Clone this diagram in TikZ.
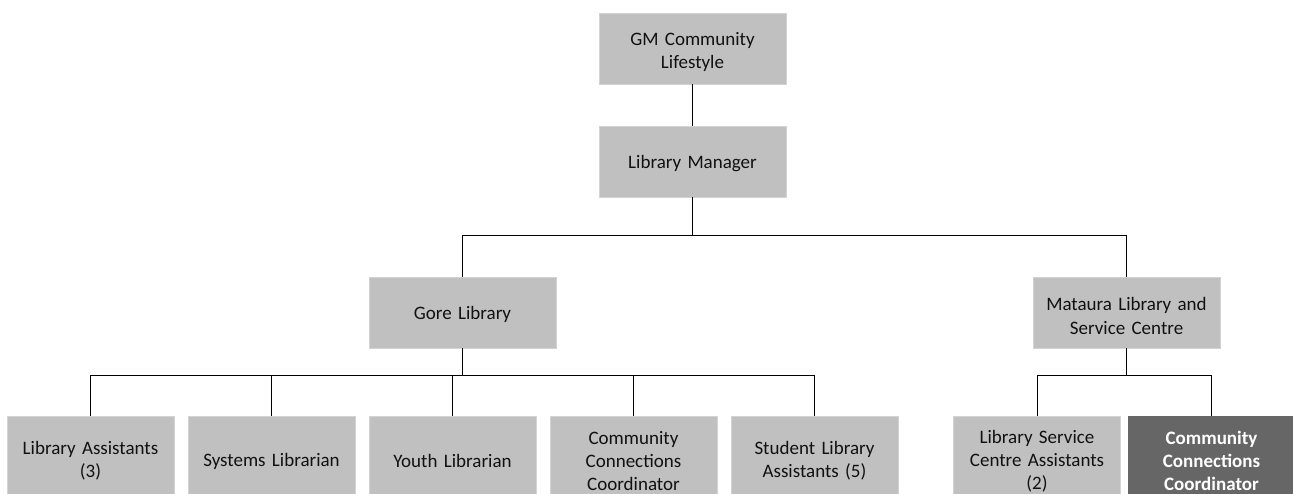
\documentclass[tikz,border=0pt]{standalone}
\usepackage{fontspec}
\setmainfont{Carlito}
\definecolor{boxgray}{HTML}{C0C0C0}
\definecolor{boxdark}{HTML}{666666}
\definecolor{txt}{HTML}{111111}
\tikzset{
  unit/.style={rectangle, fill=boxgray, draw=boxgray!70!white, line width=0.6pt,
    text=txt, align=center, inner sep=2pt,
    font=\fontsize{19}{23.2}\selectfont},
  upper/.style={unit, minimum width=187pt, minimum height=71pt, text width=175pt},
  lower/.style={unit, minimum width=167pt, minimum height=90pt, text width=160pt},
  highlight/.style={fill=boxdark, draw=boxdark, text=white, font=\fontsize{19}{23.2}\selectfont\bfseries},
  link/.style={draw=black, line width=1pt}
}
\begin{document}
\begin{tikzpicture}[x=1pt, y=-1pt]
\useasboundingbox (0,0) rectangle (1293,494);
\clip (0,0) rectangle (1293,494);

% top of the chart
\node[upper] (gm) at (692.5,48.5) {\rule{0pt}{20pt}GM Community\\Lifestyle};
\node[upper] (lm) at (692.5,161.5) {\rule{0pt}{18pt}Library Manager};

% the two branches
\node[upper] (gore) at (462.5,312.5) {\rule{0pt}{18pt}Gore Library};
\node[upper] (mat) at (1126.5,312.5) {\rule{0pt}{20pt}Mataura Library and\\Service Centre};

% Gore Library staff
\node[lower] (la) at (90.5,461) {Library Assistants\\(3)};
\node[lower] (sl) at (271.5,461) {Systems Librarian};
\node[lower] (yl) at (452.5,461) {Youth Librarian};
\node[lower] (cc) at (633.5,461) {Community\\Connections\\Coordinator};
\node[lower] (sa) at (814.5,461) {Student Library\\Assistants (5)};

% Mataura staff
\node[lower] (lsc) at (1037,461) {Library Service\\Centre Assistants\\(2)};
\node[lower, highlight] (ccm) at (1211.5,461) {Community\\Connections\\Coordinator};

% bus lines
\coordinate (busA) at (0,236);
\coordinate (busB) at (0,375.5);

% connectors
\draw[link] (gm.south) -- (lm.north);
\draw[link] (lm.south) -- (lm.south|-busA) -| (gore.north);
\draw[link] (lm.south|-busA) -| (mat.north);

\draw[link] (gore.south) -- (gore.south|-busB);
\draw[link] (la.north) |- (sa.north|-busB) -- (sa.north);
\draw[link] (sl.north) -- (sl.north|-busB);
\draw[link] (yl.north) -- (yl.north|-busB);
\draw[link] (cc.north) -- (cc.north|-busB);

\draw[link] (mat.south) -- (mat.south|-busB);
\draw[link] (lsc.north) |- (ccm.north|-busB) -- (ccm.north);
\end{tikzpicture}
\end{document}
